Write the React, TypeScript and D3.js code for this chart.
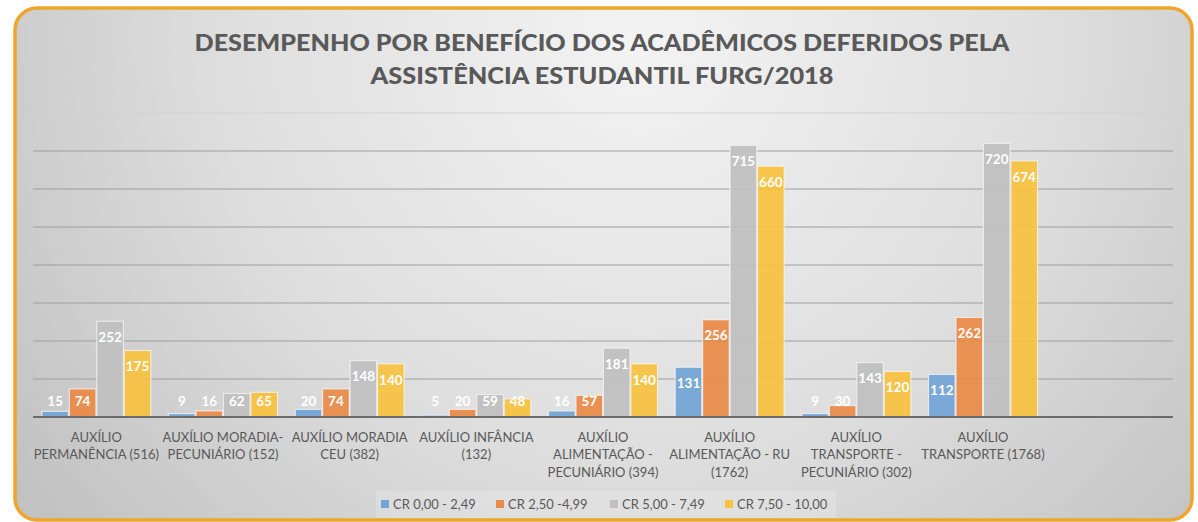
import * as d3 from 'd3'

const categories = [
  ['AUXÍLIO', 'PERMANÊNCIA (516)'],
  ['AUXÍLIO MORADIA-', 'PECUNIÁRIO (152)'],
  ['AUXÍLIO MORADIA', 'CEU (382)'],
  ['AUXÍLIO INFÂNCIA', '(132)'],
  ['AUXÍLIO', 'ALIMENTAÇÃO -', 'PECUNIÁRIO (394)'],
  ['AUXÍLIO', 'ALIMENTAÇÃO - RU', '(1762)'],
  ['AUXÍLIO', 'TRANSPORTE -', 'PECUNIÁRIO (302)'],
  ['AUXÍLIO', 'TRANSPORTE (1768)'],
]
const seriesNames = ['CR 0,00 - 2,49', 'CR 2,50 -4,99', 'CR 5,00 - 7,49', 'CR 7,50 - 10,00']
const cr0 = [15, 9, 20, 5, 16, 131, 9, 112]
const cr25 = [74, 16, 74, 20, 57, 256, 30, 262]
const cr5 = [252, 62, 148, 59, 181, 715, 143, 720]
const cr75 = [175, 65, 140, 48, 140, 660, 120, 674]
const yTicks = [100, 200, 300, 400, 500, 600, 700, 800]

const colors = ['#72a4d6', '#ea8a48', '#c0c0c0', '#f8c23e']
const W = 1198
const H = 522
const font = 'Lato, "Open Sans", sans-serif'

export default function App() {
  const series = [cr0, cr25, cr5, cr75]
  // 9 slots: Excel left an empty category at the end
  const x = d3.scaleBand<number>().domain(d3.range(9)).range([33, 1173]).paddingInner(0).paddingOuter(0)
  const y = d3.scaleLinear().domain([0, 800]).range([417, 113])
  const inner = d3.scaleBand<number>().domain(d3.range(4)).range([0, 109]).paddingInner(0.03)
  const groupOff = (x.bandwidth() - 109) / 2
  const base = y(0)

  return (
    <svg width={W} height={H} style={{ position: 'absolute', left: 0, top: 0 }} fontFamily={font}>
      <defs>
        <radialGradient id="bg" cx="640" cy="40" r="760" gradientUnits="userSpaceOnUse">
          <stop offset="0" stopColor="#f3f3f3" />
          <stop offset="0.55" stopColor="#dedede" />
          <stop offset="1" stopColor="#c2c2c2" />
        </radialGradient>
      </defs>
      <rect x={0} y={0} width={W} height={H} fill="#fff" />
      <rect x={15} y={8} width={1177} height={512} rx={22} fill="url(#bg)" stroke="#efa52c" strokeWidth={3.5} />

      <g fill="#595959" fontWeight="900" fontSize={23} textAnchor="middle">
        <text x={602} y={51} textLength={815} lengthAdjust="spacingAndGlyphs">
          DESEMPENHO POR BENEFÍCIO DOS ACADÊMICOS DEFERIDOS PELA
        </text>
        <text x={602} y={84} textLength={463} lengthAdjust="spacingAndGlyphs">
          ASSISTÊNCIA ESTUDANTIL FURG/2018
        </text>
      </g>

      <g>
        {yTicks.map(t => (
          <line key={t} x1={33} x2={1173} y1={y(t)} y2={y(t)} stroke={t === 800 ? '#d2d2d2' : '#9e9e9e'} strokeWidth={1} />
        ))}
      </g>

      <g>
        {categories.map((_, ci) =>
          series.map((s, si) => {
            const v = s[ci]
            const bx = (x(ci) as number) + groupOff + (inner(si) as number)
            const top = y(v)
            const ly = Math.min(top + 16, base - 15.5)
            return (
              <g key={`${ci}-${si}`}>
                <rect
                  x={bx}
                  y={top}
                  width={inner.bandwidth()}
                  height={base - top}
                  fill={colors[si]}
                  fillOpacity={0.93}
                  stroke="#f2f2f2"
                  strokeOpacity={0.8}
                  strokeWidth={1.2}
                />
                <text
                  x={bx + inner.bandwidth() / 2}
                  y={ly}
                  dy="0.35em"
                  textAnchor="middle"
                  fill="#fff"
                  fontWeight="bold"
                  fontSize={13.5}
                >
                  {v}
                </text>
              </g>
            )
          }),
        )}
      </g>

      <line x1={33} x2={1173} y1={base} y2={base} stroke="#6b6b6b" strokeWidth={2} />

      <g fill="#595959" fontSize={13} textAnchor="middle">
        {categories.map((lines, ci) => (
          <text key={ci} x={(x(ci) as number) + x.bandwidth() / 2} y={437} dy="0.35em">
            {lines.map((l, li) => (
              <tspan key={li} x={(x(ci) as number) + x.bandwidth() / 2} dy={li === 0 ? '0.35em' : 17.5}>
                {l}
              </tspan>
            ))}
          </text>
        ))}
      </g>

      <rect x={376} y={491} width={460} height={27} fill="#ffffff" fillOpacity={0.18} />
      <g fontSize={13} fill="#595959">
        {seriesNames.map((n, i) => {
          const lx = [381, 496, 610, 725][i]
          return (
            <g key={n}>
              <rect x={lx} y={500} width={8} height={8} fill={colors[i]} />
              <text x={lx + 12} y={504} dy="0.35em">
                {n}
              </text>
            </g>
          )
        })}
      </g>
    </svg>
  )
}
